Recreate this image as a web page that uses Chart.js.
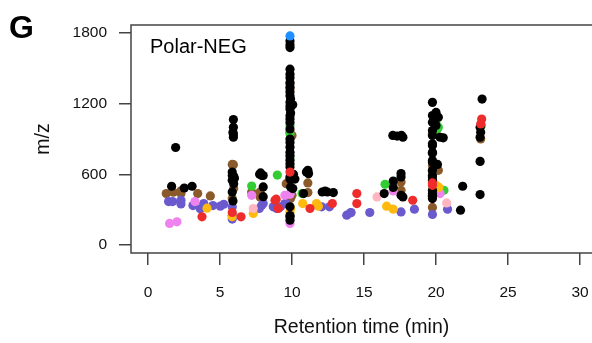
<!DOCTYPE html>
<html lang="en">
<head>
  <title>Polar-NEG</title>
  <style>
    html, body { margin: 0; padding: 0; background: #fff; }
    #wrap { width: 592px; height: 343px; }
  </style>
</head>

<body>
  <div id="wrap"><canvas id="myChart" width="592" height="343"></canvas></div>
  <script src="https://cdn.jsdelivr.net/npm/chart.js"></script>
  <script>
    // retention time (min) / m/z pairs, grouped by colour
    const xTicks = [0, 5, 10, 15, 20, 25, 30]
    const yTicks = [0, 600, 1200, 1800]

    const blackPts = [
      [1.64, 499], [2.52, 484], [3.06, 499], [1.92, 828],
      [5.85, 619], [5.85, 591], [5.95, 583], [5.85, 549], [5.95, 521], [5.85, 450], [5.9, 374],
      [5.93, 1065], [5.93, 1000], [5.9, 958], [5.93, 940], [5.93, 915], [6.0, 566],
      [7.75, 600], [7.9, 591], [7.82, 612], [8.0, 590], [8.0, 493], [8.0, 410],
      [9.86, 1732], [9.86, 1700], [9.86, 1676], [9.86, 1493], [9.86, 1450], [9.86, 1420], [9.86, 1380],
      [9.86, 1340], [9.86, 1300], [9.86, 1267], [9.9, 1240], [9.86, 1211], [9.86, 1180], [9.86, 1155],
      [9.9, 1120], [9.86, 1098], [9.86, 1070], [9.86, 1040], [9.86, 985], [9.86, 900], [9.86, 870],
      [9.86, 831], [9.86, 788], [9.86, 760], [9.86, 720], [9.86, 690], [9.86, 662], [9.86, 577],
      [9.86, 560], [9.9, 493], [10.05, 479], [9.86, 324], [9.86, 250], [9.86, 239], [9.86, 210],
      [10.1, 600], [10.2, 560], [10.05, 1190],
      [11.0, 619], [11.1, 634], [11.15, 606], [10.8, 437],
      [12.1, 450], [12.3, 458], [12.45, 450], [12.87, 445],
      [16.4, 437], [17.03, 543], [17.03, 488], [17.57, 606], [17.57, 577], [17.57, 422], [17.7, 408],
      [17.0, 930], [17.3, 925], [17.6, 930], [17.7, 915],
      [19.75, 1211], [20.0, 1126], [19.75, 1099], [20.16, 1084], [19.75, 1042], [20.0, 1014],
      [19.75, 972], [19.75, 930], [20.28, 915], [20.5, 910], [19.75, 859], [19.75, 845], [19.75, 788],
      [19.75, 780], [19.75, 718], [19.75, 704], [20.1, 684], [19.75, 634], [19.75, 591], [19.75, 577],
      [19.75, 549], [19.75, 465], [19.75, 437], [19.75, 422], [19.75, 414], [19.75, 394],
      [21.85, 499], [21.7, 296],
      [23.2, 1239], [23.06, 1000], [23.1, 958], [23.06, 915], [23.06, 710], [23.06, 428]
    ]
    const brownPts = [
      [1.27, 437], [1.76, 448], [2.29, 437], [2.29, 460], [3.45, 437], [4.33, 417],
      [5.85, 684], [5.95, 479], [5.85, 395], [5.93, 682],
      [7.2, 450], [7.78, 437], [7.78, 450], [7.78, 408],
      [9.6, 521], [9.9, 394], [9.86, 1366], [9.86, 1324], [9.86, 958], [10.0, 930], [10.0, 422],
      [11.1, 527], [11.1, 445],
      [17.57, 535], [17.57, 465],
      [19.75, 622], [19.75, 319], [19.75, 944], [20.16, 634], [19.75, 676], [20.0, 650], [20.0, 944],
      [23.1, 901]
    ]
    const slatePts = [
      [1.43, 369], [1.71, 369], [2.29, 380], [2.29, 349], [3.12, 335], [3.63, 307], [3.87, 352],
      [4.51, 335], [5.02, 330], [5.26, 346], [5.85, 324], [5.85, 253], [5.85, 220],
      [7.9, 338], [8.0, 352], [7.73, 310], [8.7, 324], [8.94, 310], [9.2, 324], [9.51, 352], [9.6, 352],
      [12.06, 324], [12.6, 324], [13.8, 253], [14.07, 273], [14.1, 276], [15.4, 276],
      [17.57, 281], [18.5, 304], [19.75, 259], [20.8, 304]
    ]
    const violetPts = [
      [1.5, 183], [2.01, 197], [3.26, 369], [7.2, 422], [9.51, 422], [9.86, 183], [9.86, 430],
      [17.03, 459], [20.28, 437]
    ]
    const redPts = [
      [3.75, 239], [5.85, 276], [6.46, 239], [8.82, 380], [8.9, 389], [9.05, 310], [9.86, 619],
      [11.25, 310], [12.8, 352], [14.5, 437], [14.5, 352], [18.38, 380], [19.75, 527], [19.75, 507],
      [23.17, 1070], [23.1, 1028]
    ]
    const orangePts = [
      [4.1, 313], [5.85, 240], [7.31, 268], [9.86, 281], [9.9, 310], [10.74, 352], [11.7, 352],
      [11.83, 330], [16.57, 330], [17.03, 304], [20.0, 507], [20.2, 490]
    ]
    const greenPts = [
      [7.2, 501], [8.98, 594], [9.86, 1014], [9.86, 944], [9.86, 741], [10.7, 437], [16.46, 515],
      [20.55, 465], [20.0, 1056], [20.16, 1000], [20.1, 986], [23.15, 1014]
    ]
    const pinkPts = [[7.31, 310], [15.9, 408], [20.74, 357]]
    const bluePts = [[9.86, 1775]]

    const toXY = pts => pts.map(p => ({ x: p[0], y: p[1] }))
    const FONT = "'Liberation Sans', Arial, sans-serif"

    // first dataset is drawn on top
    const groups = [
      [bluePts, '#1E90FF'],
      [redPts, '#EE2C2C'],
      [blackPts, '#000000'],
      [pinkPts, '#FFB6C1'],
      [orangePts, '#FFB90F'],
      [violetPts, '#EE82EE'],
      [slatePts, '#6A5ACD'],
      [greenPts, '#32CD32'],
      [brownPts, '#8B5A2B']
    ]

    const framePlugin = {
      id: 'frame',
      afterDraw(chart) {
        const { ctx, chartArea: a } = chart
        ctx.save()
        ctx.strokeStyle = '#444'
        ctx.lineWidth = 1.5
        ctx.beginPath()
        ctx.moveTo(a.right + 2, a.top)
        ctx.lineTo(a.left, a.top)
        ctx.lineTo(a.left, a.bottom)
        ctx.lineTo(a.right + 2, a.bottom)
        ctx.stroke()
        ctx.fillStyle = '#000'
        ctx.textBaseline = 'alphabetic'
        ctx.font = 'bold 32px ' + FONT
        ctx.fillText('G', 9, 38)
        ctx.font = '20px ' + FONT
        ctx.fillText('Polar-NEG', a.left + 19, 53)
        ctx.restore()
      }
    }

    const ctx = document.getElementById('myChart').getContext('2d')
    const myChart = new Chart(ctx, {
      type: 'scatter',
      data: {
        datasets: groups.map(g => ({
          data: toXY(g[0]),
          backgroundColor: g[1],
          borderWidth: 0,
          pointRadius: 4.6,
          pointHoverRadius: 4.6
        }))
      },
      options: {
        responsive: false,
        animation: false,
        events: [],
        layout: { autoPadding: false, padding: { top: 25, right: 0, left: 0, bottom: 0 } },
        plugins: { legend: { display: false }, tooltip: { enabled: false } },
        scales: {
          x: {
            type: 'linear',
            min: -1.18,
            max: 30.83,
            afterBuildTicks: s => { s.ticks = xTicks.map(v => ({ value: v })) },
            afterFit: s => { s.height = 90; s.paddingLeft = 0; s.paddingRight = 0 },
            border: { display: false },
            grid: { drawOnChartArea: false, tickLength: 12, color: '#444', lineWidth: 1.5 },
            ticks: { padding: 18, color: '#111', font: { family: FONT, size: 15.5 }, callback: v => String(v), maxRotation: 0 },
            title: { display: true, text: 'Retention time (min)', color: '#111', font: { family: FONT, size: 19.5 }, padding: { top: 0, bottom: 4 } }
          },
          y: {
            type: 'linear',
            min: -68,
            max: 1868,
            afterBuildTicks: s => { s.ticks = yTicks.map(v => ({ value: v })) },
            afterFit: s => { s.width = 131; s.paddingTop = 0; s.paddingBottom = 0 },
            border: { display: false },
            grid: { drawOnChartArea: false, tickLength: 12, color: '#444', lineWidth: 1.5 },
            ticks: { padding: 12, color: '#111', font: { family: FONT, size: 15.5 }, callback: v => String(v) },
            title: { display: true, text: 'm/z', color: '#111', font: { family: FONT, size: 19.5 }, padding: { top: 32, bottom: 0 } }
          }
        }
      },
      plugins: [framePlugin]
    })
  </script>
</body>

</html>
